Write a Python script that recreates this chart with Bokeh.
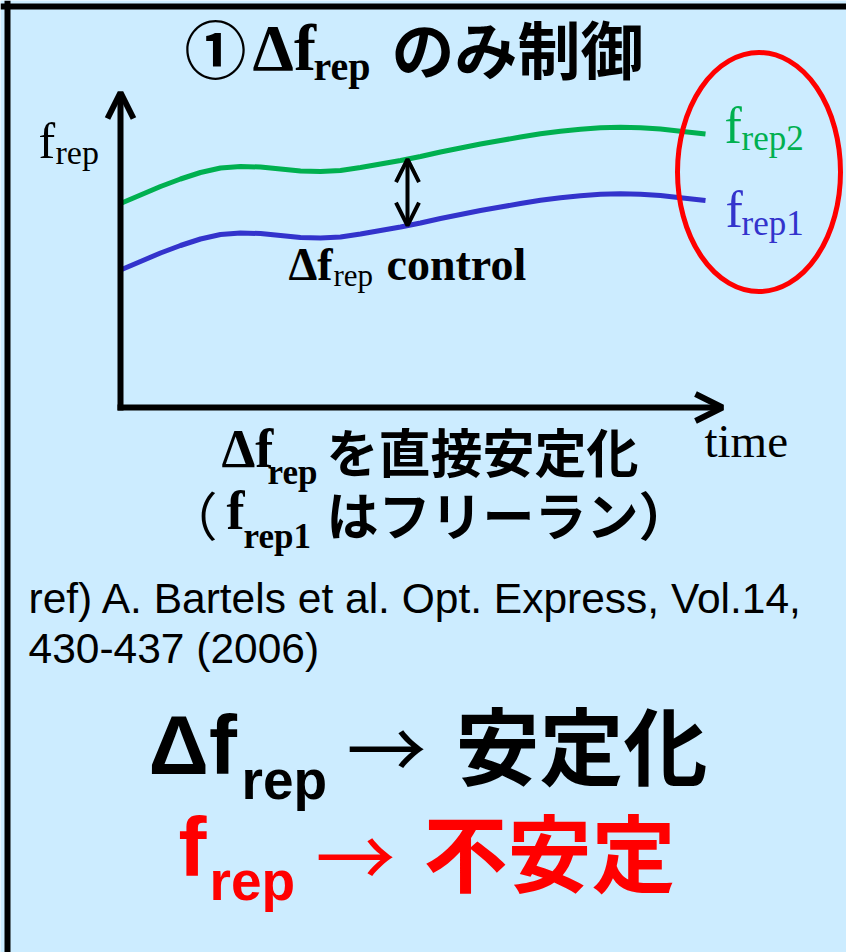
from bokeh.plotting import figure
from bokeh.models import Range1d, Label, Arrow, OpenHead, Span
from bokeh.embed import file_html
from bokeh.resources import INLINE
import numpy as np

# ---- data (arbitrary units) ----
time = [0.0, 0.4, 0.8, 1.2, 1.6, 2.0, 2.4, 2.8, 3.2, 3.6,
        4.0, 4.4, 4.8, 5.2, 5.6, 6.0, 6.4, 6.8, 7.2, 7.6,
        8.0, 8.4, 8.8, 9.2, 9.6, 10.0, 10.4, 10.8, 11.2, 11.7]
f_rep2 = [20.4, 21.25, 22.1, 22.85, 23.5, 23.95, 24.1, 24.05, 23.85, 23.65,
          23.6, 23.7, 24.0, 24.35, 24.7, 25.1, 25.55, 25.95, 26.35, 26.7,
          27.05, 27.37, 27.62, 27.82, 27.97, 28.02, 27.97, 27.84, 27.63, 27.35]
f_rep1 = [13.75, 14.6, 15.45, 16.2, 16.85, 17.3, 17.45, 17.4, 17.2, 17.0,
          16.95, 17.05, 17.35, 17.7, 18.05, 18.45, 18.9, 19.3, 19.7, 20.05,
          20.4, 20.72, 20.97, 21.17, 21.32, 21.37, 21.32, 21.19, 20.98, 20.7]
t_control = 5.74   # where the Δf_rep arrow is drawn

# ---- layout helpers: picture pixel -> data units ----
X0, XS = 120.0, 50.0
Y0, YS = 407.0, 10.0
def X(px):
    return (px - X0) / XS
def Y(py):
    return (Y0 - py) / YS

BG = "#CCECFF"
GREEN = "#00B050"
BLUE = "#3333CC"
RED = "#FF0000"
SERIF = "Liberation Serif"
SANS = "Liberation Sans"
CJK = "Noto Sans CJK JP"

W, H = 846, 952
p = figure(width=W, height=H, output_backend="svg", toolbar_location=None,
           x_range=Range1d(X(0), X(W)), y_range=Range1d(Y(H), Y(0)),
           x_axis_location=None, y_axis_location=None, min_border=0)
p.grid.visible = False
p.outline_line_color = None
p.background_fill_color = BG
p.border_fill_color = BG

p.add_layout(Span(location=X(7), dimension="height", line_color="black", line_width=6))
p.add_layout(Span(location=Y(6), dimension="width", line_color="black", line_width=6))

p.line(time, f_rep2, line_color=GREEN, line_width=5, line_join="round")
p.line(time, f_rep1, line_color=BLUE, line_width=5, line_join="round")

p.add_layout(Arrow(x_start=0, y_start=Y(410), x_end=0, y_end=Y(92),
                   line_width=6, line_color="black",
                   end=OpenHead(size=26, line_width=6, line_color="black")))
p.add_layout(Arrow(x_start=X(117), y_start=0, x_end=X(722), y_end=0,
                   line_width=6, line_color="black",
                   end=OpenHead(size=27, line_width=6, line_color="black")))

ya = float(np.interp(t_control, time, f_rep2))
yb = float(np.interp(t_control, time, f_rep1))
p.add_layout(Arrow(x_start=t_control, y_start=yb, x_end=t_control, y_end=ya,
                   line_width=4, line_color="black",
                   start=OpenHead(size=23, line_width=4, line_color="black"),
                   end=OpenHead(size=23, line_width=4, line_color="black")))

p.ellipse(x=[X(758.5)], y=[Y(171.5)], width=163 / XS, height=239 / YS,
          fill_color=None, line_color=RED, line_width=5)

def lab(text, x, y, font, size, color="black", style="normal"):
    p.add_layout(Label(x=X(x), y=Y(y), text=text, text_font=font,
                       text_font_size=f"{size}px", text_color=color,
                       text_font_style=style, text_baseline="alphabetic",
                       text_align="left"))

# title
lab("①", 184, 46, CJK, 62, style="bold")
lab("Δf", 252, 47, SERIF, 66, style="bold")
lab("rep", 313, 66, SERIF, 40, style="bold")
lab("のみ制御", 391, 46, CJK, 63, style="bold")

# axis labels
lab("f", 38, 140, SERIF, 50)
lab("rep", 55, 152, SERIF, 34)
lab("time", 704, 440, SERIF, 47)

# curve labels
lab("f", 724, 125, SERIF, 52, GREEN)
lab("rep2", 741, 138, SERIF, 35, GREEN)
lab("f", 725, 209, SERIF, 52, BLUE)
lab("rep1", 741, 223, SERIF, 35, BLUE)

# Δf_rep control
lab("Δf", 288, 264, SERIF, 46, style="bold")
lab("rep", 333, 275, SERIF, 31)
lab("control", 386, 264, SERIF, 46, style="bold")

# explanation lines
lab("Δf", 221, 448, SERIF, 54, style="bold")
lab("rep", 267, 472, SERIF, 35, style="bold")
lab("を直接安定化", 326, 450, CJK, 52, style="bold")
lab("（", 165, 513, CJK, 52)
lab("f", 226, 510, SERIF, 54, style="bold")
lab("rep1", 243, 536, SERIF, 35, style="bold")
lab("はフリーラン）", 326, 513, CJK, 52, style="bold")

# reference
lab("ref) A. Bartels et al. Opt. Express, Vol.14,", 28, 598, SANS, 42.5)
lab("430-437 (2006)", 28, 648, SANS, 42.5)

# conclusions
lab("Δf", 148, 744, SANS, 84, style="bold")
lab("rep", 241, 779, SANS, 55, style="bold")
lab("→", 346, 743, CJK, 80)
lab("安定化", 455, 742, CJK, 84, style="bold")
lab("f", 178, 846, SANS, 84, RED, "bold")
lab("rep", 209, 880, SANS, 55, RED, "bold")
lab("→", 315, 851, CJK, 80, RED)
lab("不安定", 423, 849, CJK, 84, RED, "bold")

open("out.html", "w").write(file_html(p, INLINE))
